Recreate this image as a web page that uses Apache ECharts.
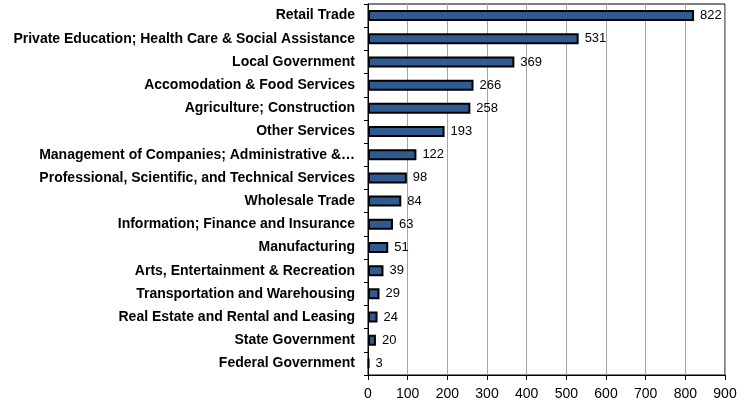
<!DOCTYPE html>
<html><head><meta charset="utf-8">
<script src="https://cdn.jsdelivr.net/npm/echarts@6/dist/echarts.min.js"></script>
<style>html,body{margin:0;padding:0;background:#fff}#c{width:754px;height:402px}</style>
</head><body><div id="c"></div>
<script>
const categories = [
  "Retail Trade",
  "Private Education; Health Care & Social Assistance",
  "Local Government",
  "Accomodation & Food Services",
  "Agriculture; Construction",
  "Other Services",
  "Management of Companies; Administrative &…",
  "Professional, Scientific, and Technical Services",
  "Wholesale Trade",
  "Information; Finance and Insurance",
  "Manufacturing",
  "Arts, Entertainment & Recreation",
  "Transportation and Warehousing",
  "Real Estate and Rental and Leasing",
  "State Government",
  "Federal Government"
];
const values = [822, 531, 369, 266, 258, 193, 122, 98, 84, 63, 51, 39, 29, 24, 20, 3];
const xTicks = [0, 100, 200, 300, 400, 500, 600, 700, 800, 900];

const chart = echarts.init(document.getElementById('c'), null, {renderer: 'canvas'});
chart.setOption({
  animation: false,
  textStyle: {fontFamily: 'Liberation Sans, Arial, sans-serif'},
  grid: {left: 368, right: 29, top: 4, bottom: 27, show: true, borderColor: '#000', borderWidth: 1, backgroundColor: 'transparent'},
  xAxis: {
    type: 'value', min: xTicks[0], max: xTicks[xTicks.length - 1], interval: 100,
    axisLine: {show: true, lineStyle: {color: '#000', width: 1}},
    axisTick: {show: true, length: 5, lineStyle: {color: '#000'}},
    axisLabel: {color: '#000', fontSize: 14, margin: 12},
    splitLine: {show: true, lineStyle: {color: '#a6a6a6', width: 1}}
  },
  yAxis: {
    type: 'category', data: categories, inverse: true,
    axisLine: {show: true, lineStyle: {color: '#000', width: 1}},
    axisTick: {show: true, length: 4, lineStyle: {color: '#000'}},
    axisLabel: {color: '#000', fontSize: 14, fontWeight: 'bold', margin: 13}
  },
  series: [{
    type: 'bar', data: values, barWidth: 11,
    itemStyle: {color: '#2f5b91', borderColor: '#000', borderWidth: 2},
    label: {show: true, position: 'right', color: '#000', fontSize: 13, distance: 6}
  }]
});
</script></body></html>
